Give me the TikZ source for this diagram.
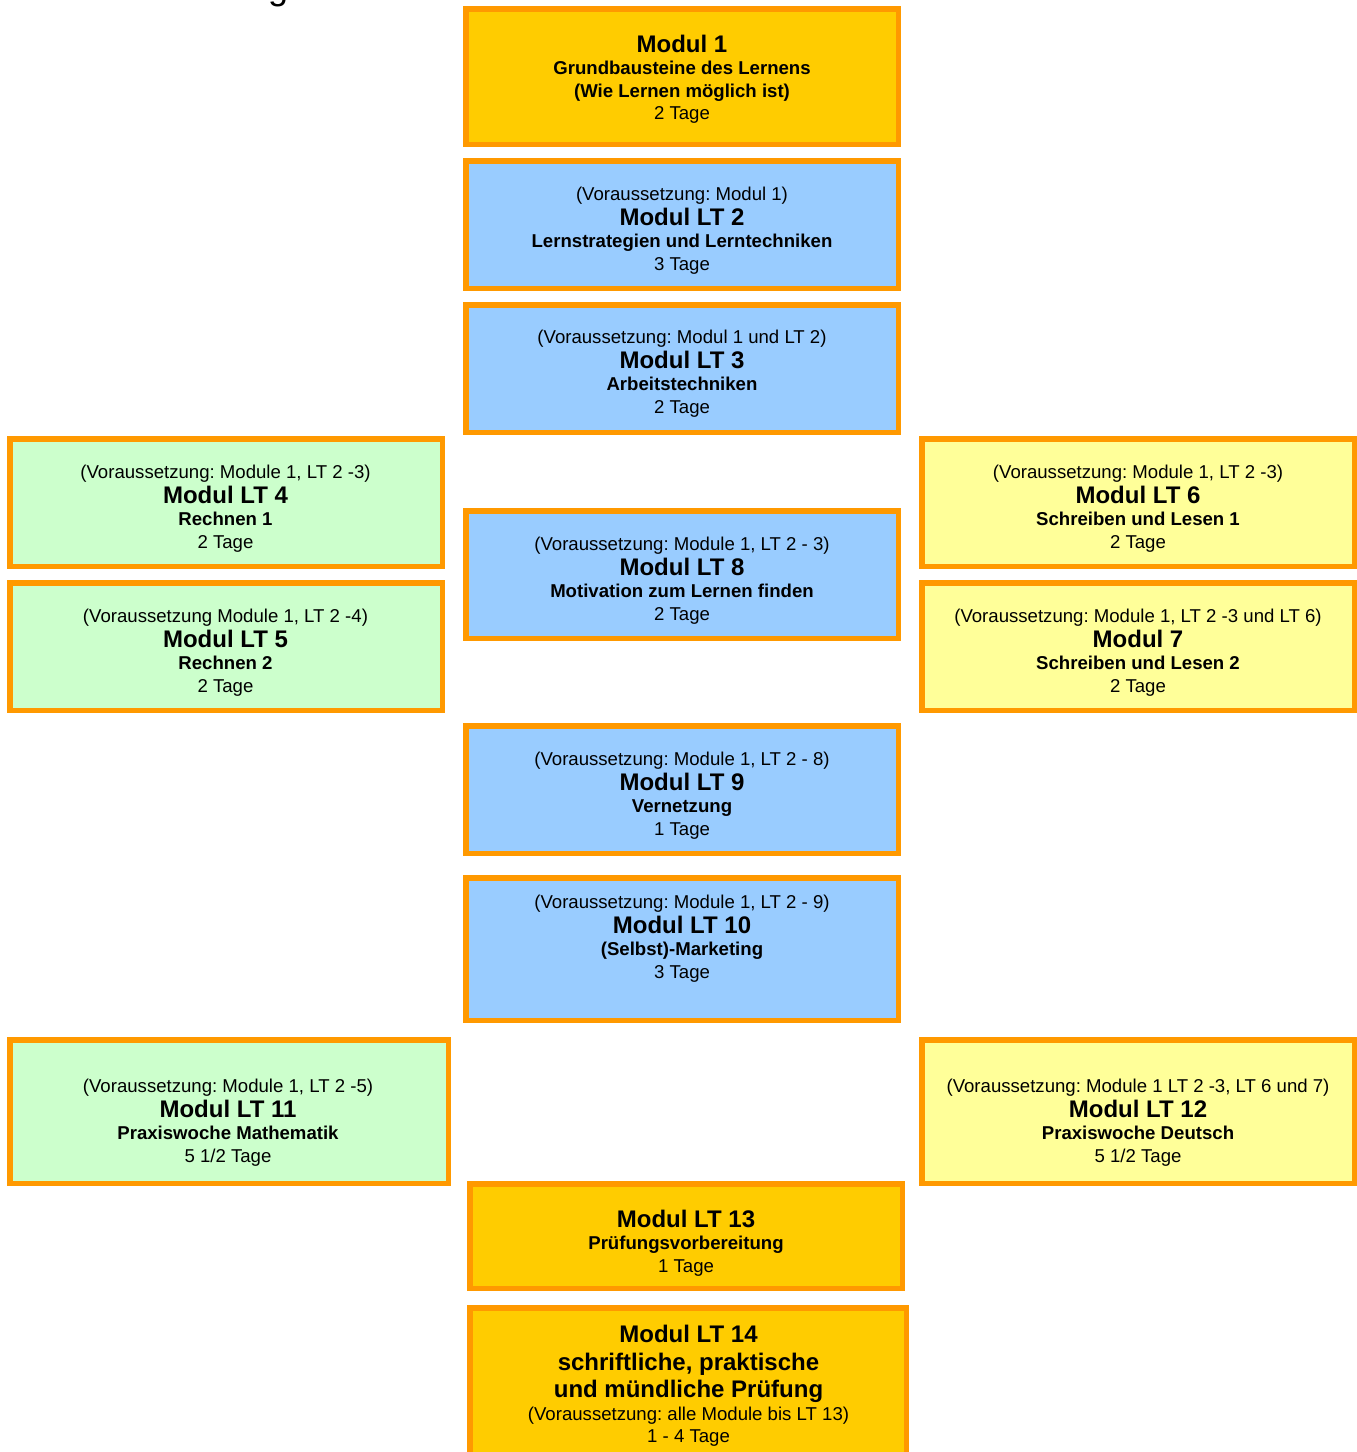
\documentclass[tikz,border=0pt]{standalone}
\usepackage{fontspec}
\setmainfont{Liberation Sans}
\frenchspacing
\definecolor{bord}{HTML}{FF9900}
\definecolor{gold}{HTML}{FFCC00}
\definecolor{lblue}{HTML}{99CCFF}
\definecolor{lgreen}{HTML}{CCFFCC}
\definecolor{lyellow}{HTML}{FFFF99}
\newcommand\mtext[1]{\vtop{\baselineskip=22.5pt\lineskiplimit=-30pt\lineskip=0pt\halign{\hfil##\hfil\cr#1\crcr}}}
\newcommand\fpre{\fontsize{18.6}{22}\selectfont}
\newcommand\fttl{\fontsize{24}{26}\selectfont\bfseries}
\newcommand\fsub{\fontsize{18.6}{22}\selectfont\bfseries}
\newcommand\gap{\noalign{\vskip2.5pt}}
\tikzset{
  mbox/.style={draw=bord, line width=5.5pt, inner sep=0pt, outer sep=0pt},
  mlabel/.style={anchor=base, inner sep=0pt, outer sep=0pt, text=black}
}
\begin{document}
\begin{tikzpicture}[x=1pt,y=-1pt]
\useasboundingbox (0,0) rectangle (1357,1452);
% cut-off heading fragment (only its descender is visible)
\node[anchor=base west, inner sep=0pt, font=\fontsize{36}{40}\selectfont] (gfrag) at (268,-0.5) {g};
% boxes
\node[mbox, fill=gold,   minimum width=432.5pt, minimum height=135.5pt] (b1)  at (682,76.5) {};
\node[mbox, fill=lblue,  minimum width=432.5pt, minimum height=127.5pt] (b2)  at (682,224.5) {};
\node[mbox, fill=lblue,  minimum width=432.5pt, minimum height=127.5pt] (b3)  at (682,368.5) {};
\node[mbox, fill=lgreen, minimum width=432.5pt, minimum height=127.5pt] (b4)  at (226,502.5) {};
\node[mbox, fill=lgreen, minimum width=432.5pt, minimum height=127.5pt] (b5)  at (226,646.5) {};
\node[mbox, fill=lyellow,minimum width=432.5pt, minimum height=127.5pt] (b6)  at (1138,502.5) {};
\node[mbox, fill=lyellow,minimum width=432.5pt, minimum height=127.5pt] (b7)  at (1138,646.5) {};
\node[mbox, fill=lblue,  minimum width=432.5pt, minimum height=127.5pt] (b8)  at (682,574.5) {};
\node[mbox, fill=lblue,  minimum width=432.5pt, minimum height=127.5pt] (b9)  at (682,789.5) {};
\node[mbox, fill=lblue,  minimum width=432.5pt, minimum height=142.5pt] (b10) at (682,949) {};
\node[mbox, fill=lgreen, minimum width=438.5pt, minimum height=143.5pt] (b11) at (229,1111.5) {};
\node[mbox, fill=lyellow,minimum width=432.5pt, minimum height=143.5pt] (b12) at (1138,1111.5) {};
\node[mbox, fill=gold,   minimum width=432.5pt, minimum height=104.5pt] (b13) at (686,1236) {};
\node[mbox, fill=gold,   minimum width=436.5pt, minimum height=149.5pt] (b14) at (688,1382.5) {};
% texts
\node[mlabel] (t1) at (682,52) {\mtext{\fttl Modul 1\cr\fsub Grundbausteine des Lernens\cr\fsub (Wie Lernen möglich ist)\cr\fpre 2 Tage}};
\node[mlabel] (t2) at (682,200) {\mtext{\fpre (Voraussetzung: Modul 1)\cr\gap\fttl Modul LT 2\cr\fsub Lernstrategien und Lerntechniken\cr\fpre 3 Tage}};
\node[mlabel] (t3) at (682,343) {\mtext{\fpre (Voraussetzung: Modul 1 und LT 2)\cr\gap\fttl Modul LT 3\cr\fsub Arbeitstechniken\cr\fpre 2 Tage}};
\node[mlabel] (t4) at (225.5,478) {\mtext{\fpre (Voraussetzung: Module 1, LT 2 -3)\cr\gap\fttl Modul LT 4\cr\fsub Rechnen 1\cr\fpre 2 Tage}};
\node[mlabel] (t5) at (225.5,622) {\mtext{\fpre (Voraussetzung Module 1, LT 2 -4)\cr\gap\fttl Modul LT 5\cr\fsub Rechnen 2\cr\fpre 2 Tage}};
\node[mlabel] (t6) at (1138,478) {\mtext{\fpre (Voraussetzung: Module 1, LT 2 -3)\cr\gap\fttl Modul LT 6\cr\fsub Schreiben und Lesen 1\cr\fpre 2 Tage}};
\node[mlabel] (t7) at (1138,622) {\mtext{\fpre (Voraussetzung: Module 1, LT 2 -3 und LT 6)\cr\gap\fttl Modul 7\cr\fsub Schreiben und Lesen 2\cr\fpre 2 Tage}};
\node[mlabel] (t8) at (682,550) {\mtext{\fpre (Voraussetzung: Module 1, LT 2 - 3)\cr\gap\fttl Modul LT 8\cr\fsub Motivation zum Lernen finden\cr\fpre 2 Tage}};
\node[mlabel] (t9) at (682,765) {\mtext{\fpre (Voraussetzung: Module 1, LT 2 - 8)\cr\gap\fttl Modul LT 9\cr\fsub Vernetzung\cr\fpre 1 Tage}};
\node[mlabel] (t10) at (682,908) {\mtext{\fpre (Voraussetzung: Module 1, LT 2 - 9)\cr\gap\fttl Modul LT 10\cr\fsub (Selbst)-Marketing\cr\fpre 3 Tage}};
\node[mlabel] (t11) at (228,1092) {\mtext{\fpre (Voraussetzung: Module 1, LT 2 -5)\cr\gap\fttl Modul LT 11\cr\fsub Praxiswoche Mathematik\cr\fpre 5 1/2 Tage}};
\node[mlabel] (t12) at (1138,1092) {\mtext{\fpre (Voraussetzung: Module 1 LT 2 -3, LT 6 und 7)\cr\gap\fttl Modul LT 12\cr\fsub Praxiswoche Deutsch\cr\fpre 5 1/2 Tage}};
\node[mlabel] (t13) at (686,1227) {\mtext{\fttl Modul LT 13\cr\fsub Prüfungsvorbereitung\cr\fpre 1 Tage}};
\node[mlabel] (t14) at (688.5,1342) {\mtext{\fttl Modul LT 14\cr\noalign{\vskip5.5pt}\fttl schriftliche, praktische\cr\noalign{\vskip4.5pt}\fttl und mündliche Prüfung\cr\noalign{\vskip0.5pt}\fpre (Voraussetzung: alle Module bis LT 13)\cr\fpre 1 - 4 Tage}};
\end{tikzpicture}
\end{document}
